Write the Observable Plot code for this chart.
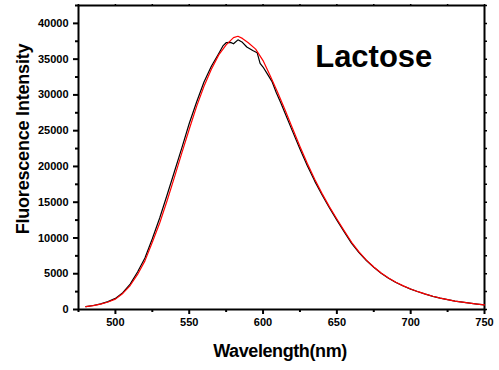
<!DOCTYPE html>
<html>
<head>
<meta charset="utf-8">
<script src="https://cdn.jsdelivr.net/npm/d3@7"></script>
<script src="https://cdn.jsdelivr.net/npm/@observablehq/plot@0.6"></script>
<style>
  html, body { margin: 0; padding: 0; background: #fff; }
  #chart { width: 499px; height: 370px; }
</style>
</head>
<body>
<div id="chart"></div>
<script>
// Black series (wavelength nm, intensity)
const blackNm = [480,485,490,495,500,505,510,515,520,525,530,535,540,545,550,555,560,565,570,573,575,578,580,583,586,589,593,596,598,600,603,606,609,612,615,620,625,630,635,640,645,650,655,660,665,670,675,680,685,690,695,700,705,710,715,720,725,730,735,740,745,750];
const blackVal = [400,560,780,1100,1550,2350,3550,5250,7200,9900,12800,16000,19300,22600,26000,29000,31800,34000,35800,36900,37300,37350,37150,37700,37350,36700,36200,35900,34400,33900,32900,31900,30300,28900,27400,24900,22450,20100,17950,16000,14200,12500,10850,9250,7950,6850,5900,5080,4380,3780,3280,2850,2480,2140,1840,1590,1370,1180,1020,880,760,650];
// Red series
const redNm = [480,485,490,495,500,505,510,515,520,525,530,535,540,545,550,555,560,565,570,575,580,583,586,590,595,600,605,610,615,620,625,630,635,640,645,650,655,660,665,670,675,680,685,690,695,700,705,710,715,720,725,730,735,740,745,750];
const redVal = [400,550,750,1050,1450,2250,3350,4900,6800,9400,12100,15200,18500,21900,25200,28400,31200,33600,35600,37000,38000,38200,37900,37300,36400,34800,32600,30300,27850,25300,22800,20400,18200,16200,14350,12650,11000,9400,8050,6900,5950,5100,4400,3800,3300,2870,2490,2150,1850,1600,1380,1180,1020,880,760,650];

// Axis ticks
const xMajor = [500, 550, 600, 650, 700, 750];
const xMinor = [475, 525, 575, 625, 675, 725];
const yMajor = [0, 5000, 10000, 15000, 20000, 25000, 30000, 35000, 40000];
const yMinor = [2500, 7500, 12500, 17500, 22500, 27500, 32500, 37500, 42500];
const xAll = [475, 500, 525, 550, 575, 600, 625, 650, 675, 700, 725, 750];
const yAll = [0, 2500, 5000, 7500, 10000, 12500, 15000, 17500, 20000, 22500, 25000, 27500, 30000, 32500, 35000, 37500, 40000, 42500];

// Texts
const xTitle = "Wavelength(nm)";
const yTitle = "Fluorescence Intensity";
const annotation = [{nm: 675, val: 35300, text: "Lactose"}];

const black = blackNm.map((d, i) => ({nm: d, val: blackVal[i]}));
const red = redNm.map((d, i) => ({nm: d, val: redVal[i]}));

const FONT = "'Liberation Sans', Arial, Helvetica, sans-serif";

const plot = Plot.plot({
  width: 499,
  height: 370,
  marginLeft: 78,
  marginRight: 15,
  marginTop: 5,
  marginBottom: 61,
  style: {fontFamily: FONT, fontSize: "11px", fontWeight: "bold", background: "#fff", color: "#000"},
  x: {domain: [475, 750]},
  y: {domain: [0, 42500]},
  marks: [
    Plot.axisX({anchor: "bottom", ticks: xMajor, tickSize: 5, tickPadding: 4, strokeWidth: 2, label: null, tickFormat: d => String(d)}),
    Plot.axisX({anchor: "bottom", ticks: xMinor, tickSize: 3, strokeWidth: 2, text: null, label: null}),
    Plot.axisX({anchor: "top", ticks: xAll, tickSize: 2, strokeWidth: 1.5, text: null, label: null}),
    Plot.axisY({anchor: "left", ticks: yMajor, tickSize: 5, tickPadding: 5, strokeWidth: 2, label: null, tickFormat: d => String(d)}),
    Plot.axisY({anchor: "left", ticks: yMinor, tickSize: 3, strokeWidth: 2, text: null, label: null}),
    Plot.axisY({anchor: "right", ticks: yAll, tickSize: 2, strokeWidth: 1.5, text: null, label: null}),
    Plot.frame({stroke: "#000", strokeWidth: 2}),
    Plot.line(black, {x: "nm", y: "val", stroke: "#000", strokeWidth: 1.2}),
    Plot.line(red, {x: "nm", y: "val", stroke: "#ff0000", strokeWidth: 1.2}),
    Plot.text(annotation, {x: "nm", y: "val", text: "text", fontSize: 31, fontWeight: "bold", textAnchor: "middle", lineAnchor: "middle", fill: "#000"})
  ]
});

const svg = d3.select(plot);
svg.append("text")
  .attr("x", 280).attr("y", 352)
  .attr("text-anchor", "middle").attr("dominant-baseline", "middle")
  .style("font-family", FONT).style("font-size", "18px").style("font-weight", "bold")
  .style("letter-spacing", "-0.4px")
  .attr("fill", "#000")
  .text(xTitle);
svg.append("text")
  .attr("transform", "translate(24,139) rotate(-90)")
  .attr("text-anchor", "middle").attr("dominant-baseline", "middle")
  .style("font-family", FONT).style("font-size", "18px").style("font-weight", "bold")
  .style("letter-spacing", "-0.2px")
  .attr("fill", "#000")
  .text(yTitle);

document.getElementById("chart").appendChild(plot);
</script>
</body>
</html>
